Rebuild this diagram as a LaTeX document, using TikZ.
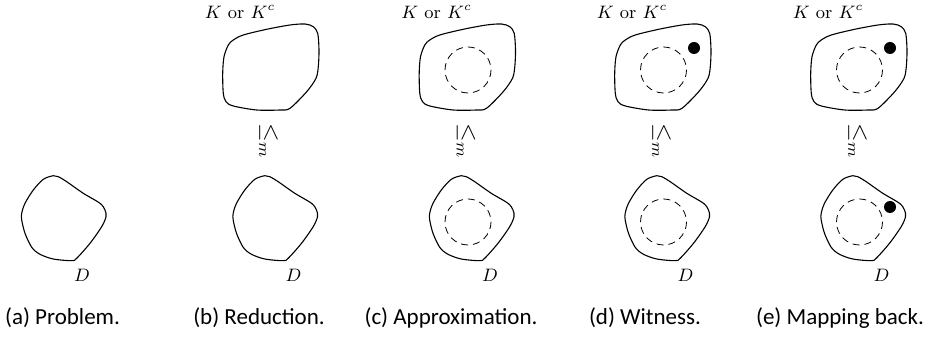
\documentclass[tikz,border=0pt]{standalone}
\usepackage{amsmath,amssymb}
\usepackage{fontspec}
\setsansfont{Carlito}
\usetikzlibrary{positioning}
\newcommand{\topblob}{%
	\draw[blob] plot[smooth cycle, tension=0.5] coordinates {
		(-37.2,-27) (-27.2,-32) (-3.8,-37.7) (19.5,-42) (34.5,-43) (42.8,-40.3)
		(47.2,-33.7) (48.5,-17) (47.8,-0.3) (45.5,11.3) (36.2,24.7) (19.5,41.3)
		(9.5,43) (-13.8,43) (-37.2,39) (-44.5,34.7) (-47.2,26.3) (-47.8,6.3)
		(-46.5,-10.3) (-42.2,-22)};}
\newcommand{\botblob}{%
	\draw[blob] plot[smooth cycle, tension=0.5] coordinates {
		(-11.2,-42.8) (-21.2,-39.2) (-31.2,-28.5) (-39.5,-15.2) (-42.8,-5.2)
		(-42.8,1.5) (-39.5,14.8) (-32.8,28.8) (-24.5,35.8) (-11.2,40.5)
		(7.2,42.2) (12.2,39.8) (25.5,24.8) (37.2,8.2) (41.5,-1.8) (40.5,-8.5)
		(35.5,-15.2) (18.8,-25.2) (2.2,-36.8) (-6.2,-41.8)};}

\begin{document}
\begin{tikzpicture}[
	x=0.5pt,
	y=-0.5pt,
	blob/.style={line width=0.55pt},
	approx/.style={line width=0.4pt, dash pattern=on 3.5pt off 2.5pt},
	witness/.style={fill=black},
	setlabel/.style={inner sep=1pt, font=\fontsize{9}{11}\selectfont},
	redlabel/.style={inner sep=1pt, rotate=-90, font=\fontsize{11.5}{13}\selectfont},
	caption/.style={inner sep=1pt, font=\sffamily\fontsize{11.5}{14}\selectfont}
	]
	
	\useasboundingbox (0,0) rectangle (948,341);
	
	% ==================================================
	% (a) Problem
	% ==================================================
	\begin{scope}[shift={(64.5,218.5)}]
		\botblob
		\node[setlabel] (Da) at (17.5,56.5) {$D$};
	\end{scope}
	\node[caption] (capa) at (62.5,318) {(a) Problem.};
	
	% ==================================================
	% (b) Reduction
	% ==================================================
	\begin{scope}[shift={(270.5,0)}]
		\node[setlabel] (Kb) at (-30.5,12) {$K$ or $K^c$};
		\begin{scope}[shift={(0,67)}]
			\topblob
		\end{scope}
		\node[redlabel] (mb) at (-2,141) {$\leq_m$};
		\begin{scope}[shift={(5.5,218.5)}]
			\botblob
		\end{scope}
		\node[setlabel] (Db) at (23,275) {$D$};
	\end{scope}
	\node[caption] (capb) at (259,318) {(b) Reduction.};
	
	% ==================================================
	% (c) Approximation
	% ==================================================
	\begin{scope}[shift={(467,0)}]
		\node[setlabel] (Kc) at (-30.5,12) {$K$ or $K^c$};
		\begin{scope}[shift={(0,67)}]
			\topblob
		\end{scope}
		\draw[approx] (1,70) circle[radius=23];
		\node[redlabel] (mc) at (-1,141) {$\leq_m$};
		\begin{scope}[shift={(5.5,218.5)}]
			\botblob
		\end{scope}
		\draw[approx] (1,222) circle[radius=23];
		\node[setlabel] (Dc) at (23,275) {$D$};
	\end{scope}
	\node[caption] (capc) at (451,318) {(c) Approximation.};
	
	% ==================================================
	% (d) Witness
	% ==================================================
	\begin{scope}[shift={(662.5,0)}]
		\node[setlabel] (Kd) at (-30.5,12) {$K$ or $K^c$};
		\begin{scope}[shift={(0,67)}]
			\topblob
		\end{scope}
		\draw[approx] (1,70) circle[radius=23];
		\fill[witness] (31.5,48) circle[radius=6];
		\node[redlabel] (md) at (-1,141) {$\leq_m$};
		\begin{scope}[shift={(5.5,218.5)}]
			\botblob
		\end{scope}
		\draw[approx] (1,222) circle[radius=23];
		\node[setlabel] (Dd) at (23,275) {$D$};
	\end{scope}
	\node[caption] (capd) at (645,318) {(d) Witness.};
	
	% ==================================================
	% (e) Mapping back
	% ==================================================
	\begin{scope}[shift={(858.5,0)}]
		\node[setlabel] (Ke) at (-30.5,12) {$K$ or $K^c$};
		\begin{scope}[shift={(0,67)}]
			\topblob
		\end{scope}
		\draw[approx] (1,70) circle[radius=23];
		\fill[witness] (31.5,48) circle[radius=6];
		\node[redlabel] (me) at (-1,141) {$\leq_m$};
		\begin{scope}[shift={(5.5,218.5)}]
			\botblob
		\end{scope}
		\draw[approx] (1,222) circle[radius=23];
		\fill[witness] (31.5,207) circle[radius=6];
		\node[setlabel] (De) at (23,275) {$D$};
	\end{scope}
	\node[caption] (cape) at (840,318) {(e) Mapping back.};
	
\end{tikzpicture}
\end{document}
